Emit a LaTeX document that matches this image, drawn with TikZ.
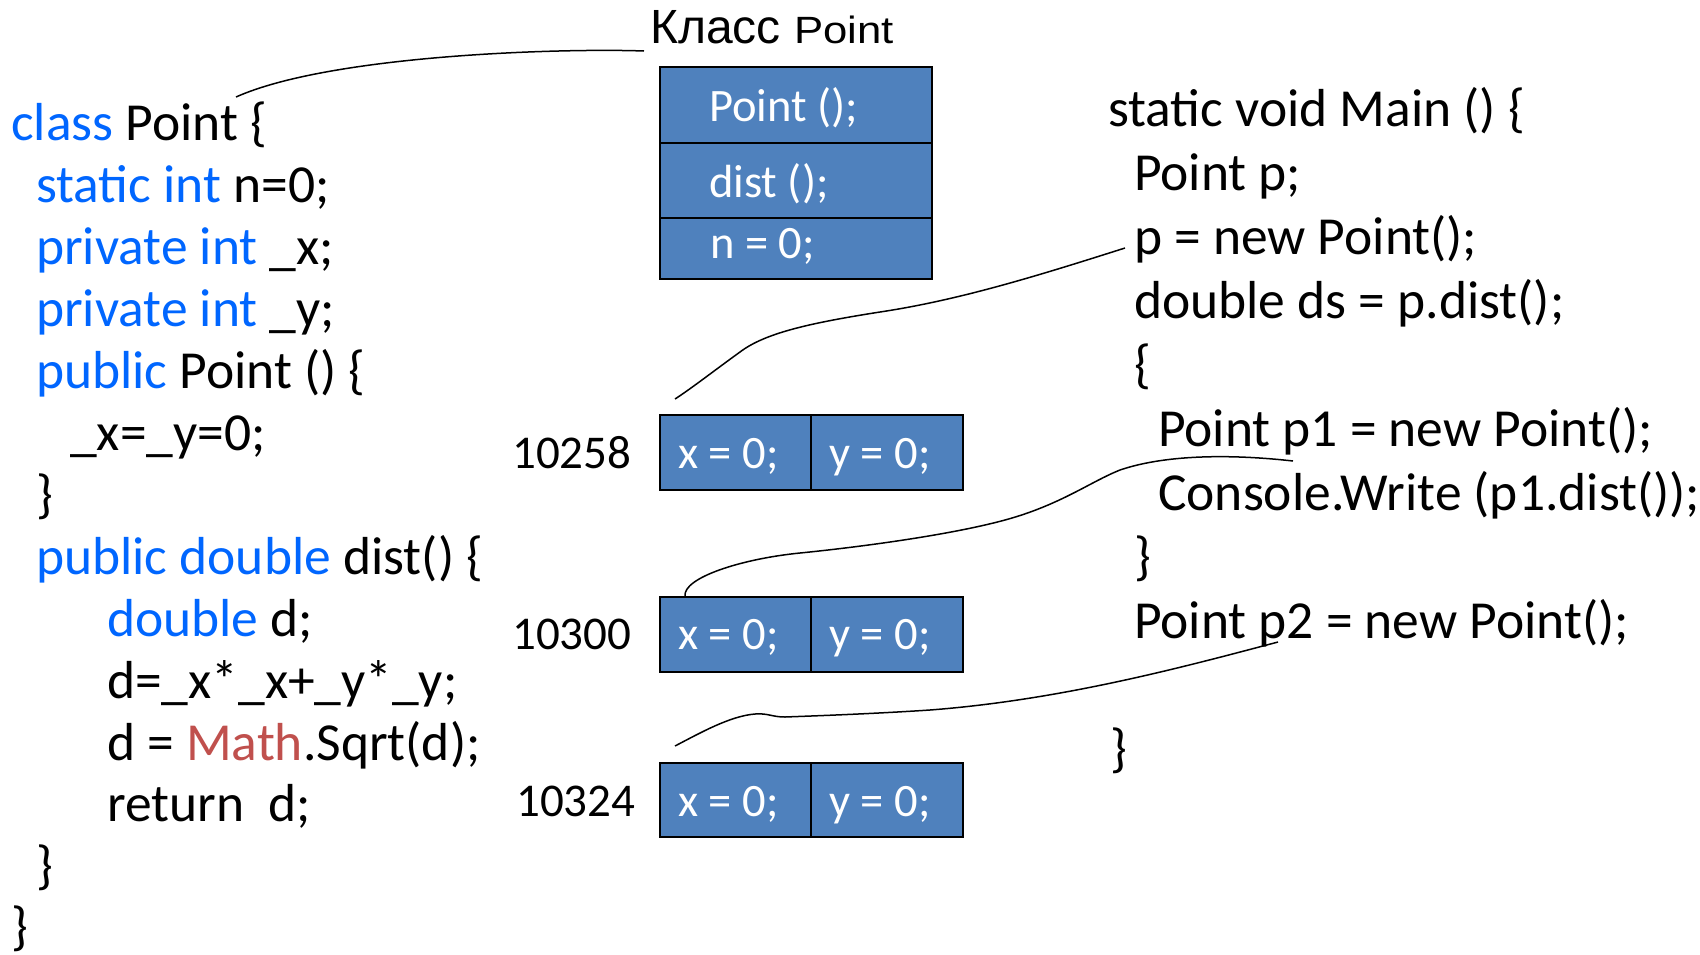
\documentclass[tikz,border=0pt]{standalone}
\usepackage{fontspec}
\setmainfont{Carlito}
\newfontfamily\headfont{Liberation Sans}
\newfontfamily\headwide[FakeStretch=1.15]{Liberation Sans}
\definecolor{kwblue}{RGB}{0,102,255}
\definecolor{mathred}{RGB}{192,80,77}
\definecolor{cellblue}{RGB}{79,129,189}
\newcommand{\kw}[1]{\textcolor{kwblue}{#1}}

\begin{document}
\begin{tikzpicture}[x=1pt, y=-1pt,
  code/.style={anchor=base west, inner sep=0pt, font=\fontsize{53.5}{64}\selectfont},
  cell/.style={draw=black, line width=2pt, fill=cellblue, anchor=north west, inner sep=0pt},
  celltext/.style={anchor=base west, inner sep=0pt, text=white, font=\fontsize{46.5}{56}\selectfont},
  addr/.style={anchor=base west, inner sep=0pt, font=\fontsize{47}{56}\selectfont},
  link/.style={line width=1.5pt}]
\useasboundingbox (0,0) rectangle (1700,954);

% class Point
\node[code] (c1) at (11,140) {\kw{class} Point \{};
\node[code] (c2) at (36,202) {\kw{static int} n=0;};
\node[code] (c3) at (36,264) {\kw{private int} \_x;};
\node[code] (c4) at (36,326) {\kw{private int} \_y;};
\node[code] (c5) at (36,388) {\kw{public} Point () \{};
\node[code] (c6) at (70,450) {\_x=\_y=0;};
\node[code] (c7) at (36,512) {\}};
\node[code] (c8) at (36,574) {\kw{public double} dist() \{};
\node[code] (c9) at (107,636) {\kw{double} d;};
\node[code] (c10) at (107,698) {d=\_x*\_x+\_y*\_y;};
\node[code] (c11) at (107,760) {d = \textcolor{mathred}{Math}.Sqrt(d);};
\node[code] (c12) at (107,821) {return~~d;};
\node[code] (c13) at (36,883) {\}};
\node[code] (c14) at (11,944) {\}};

% Main
\node[code] (m1) at (1108,126) {static void Main () \{};
\node[code] (m2) at (1134,190) {Point p;};
\node[code] (m3) at (1134,254) {p = new Point();};
\node[code] (m4) at (1134,318) {double ds = p.dist();};
\node[code] (m5) at (1134,382) {\{};
\node[code] (m6) at (1158,446) {Point p1 = new Point();};
\node[code] (m7) at (1158,510) {Console.Write (p1.dist());};
\node[code] (m8) at (1134,574) {\}};
\node[code] (m9) at (1134,638) {Point p2 = new Point();};
\node[code] (m10) at (1110,766) {\}};

% class object
\node[anchor=base west, inner sep=0pt] (head) at (650,43)
  {{\headfont\fontsize{48}{52}\selectfont Класс\ }{\headwide\fontsize{38}{42}\selectfont Point}};
\node[cell, minimum width=272, minimum height=76] (pt) at (659,66) {};
\node[cell, minimum width=272, minimum height=75] (ds) at (659,142) {};
\node[cell, minimum width=272, minimum height=61] (nz) at (659,217) {};
\node[celltext] (tpt) at (709,121) {Point ();};
\node[celltext] (tds) at (709,197) {dist ();};
\node[celltext] (tnz) at (710,258) {n = 0;};

% objects in memory
\node[cell, minimum width=151, minimum height=75] (a1x) at (659,414) {};
\node[cell, minimum width=152, minimum height=75] (a1y) at (810,414) {};
\node[cell, minimum width=151, minimum height=75] (a2x) at (659,596) {};
\node[cell, minimum width=152, minimum height=75] (a2y) at (810,596) {};
\node[cell, minimum width=151, minimum height=74] (a3x) at (659,762) {};
\node[cell, minimum width=152, minimum height=74] (a3y) at (810,762) {};
\node[celltext] (t1x) at (678,468) {x = 0;};
\node[celltext] (t1y) at (829,468) {y = 0;};
\node[celltext] (t2x) at (678,649) {x = 0;};
\node[celltext] (t2y) at (829,649) {y = 0;};
\node[celltext] (t3x) at (678,816) {x = 0;};
\node[celltext] (t3y) at (829,816) {y = 0;};
\node[addr] (l1) at (512,468) {10258};
\node[addr] (l2) at (512,649) {10300};
\node[addr] (l3) at (516,816) {10324};

% links
\coordinate (hd) at (644,51);
\coordinate (cp) at (236,97);
\coordinate (pn) at (1125,248);
\coordinate (o1) at (675,399);
\coordinate (pa) at (1293,461);
\coordinate (o2) at (685,596);
\coordinate (pb) at (1278,642);
\coordinate (o3) at (675,746);
\draw[link] (hd) .. controls (560,48) and (330,55) .. (cp);
\draw[link] (pn) .. controls (1040,275) and (960,300) .. (880,312)
  .. controls (810,323) and (765,333) .. (740,352)
  .. controls (715,370) and (692,388) .. (o1);
\draw[link] (pa) .. controls (1240,455) and (1170,453) .. (1120,470)
  .. controls (1090,482) and (1060,505) .. (1005,520)
  .. controls (950,535) and (860,547) .. (800,553)
  .. controls (740,559) and (683,578) .. (o2);
\draw[link] (pb) .. controls (1180,668) and (1060,700) .. (930,710)
  .. controls (870,714) and (810,716) .. (785,717)
  .. controls (772,717) and (768,713) .. (755,714)
  .. controls (730,716) and (700,733) .. (o3);
\end{tikzpicture}
\end{document}
